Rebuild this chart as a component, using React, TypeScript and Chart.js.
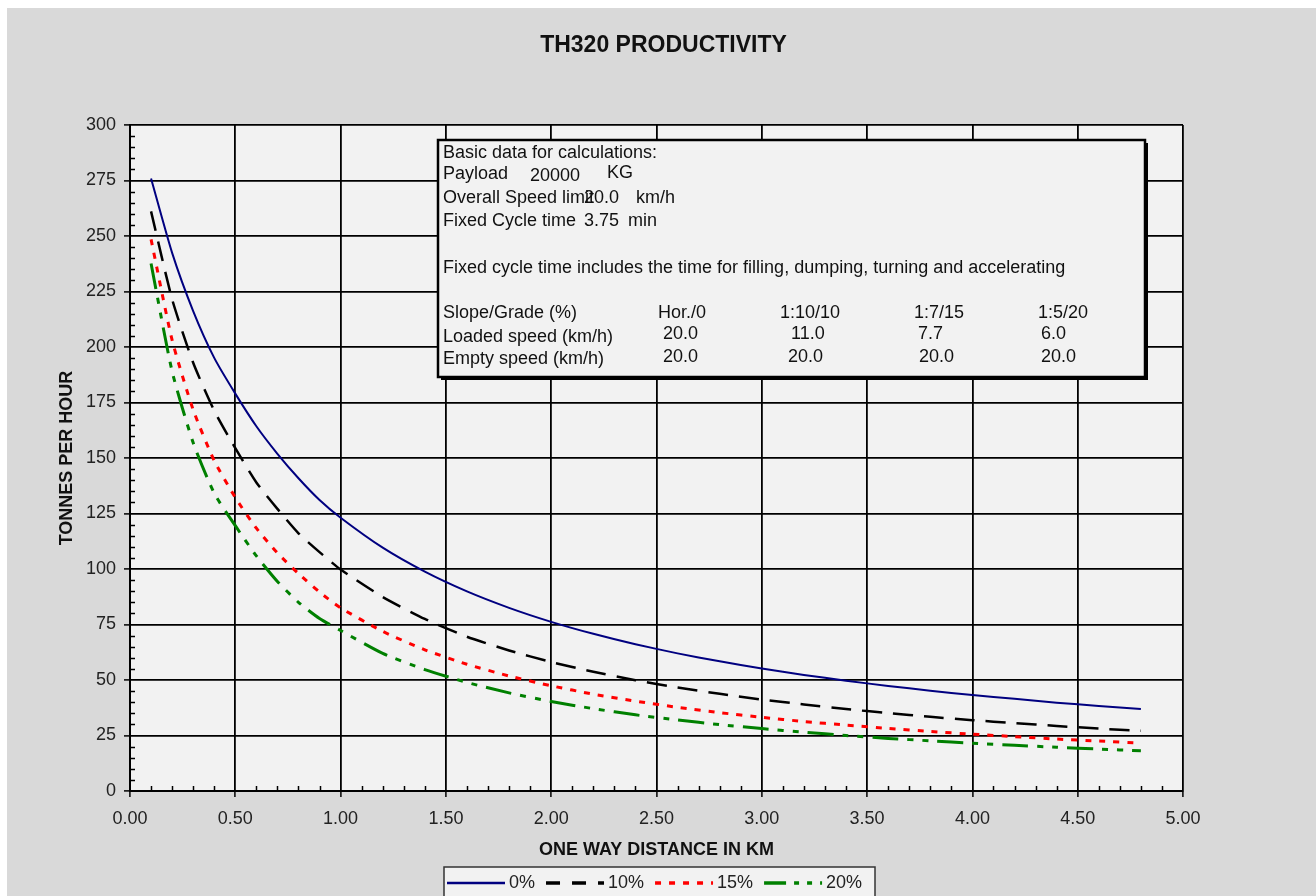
import React, { useEffect, useRef } from 'react';
import { Chart, registerables } from 'chart.js';

Chart.register(...registerables);

const FONT = '"Liberation Sans", Arial, Helvetica, sans-serif';

// One way distance (km)
const distances = [0.1, 0.2, 0.3, 0.4, 0.5, 0.6, 0.7, 0.8, 0.9, 1.0, 1.2, 1.4, 1.6, 1.8, 2.0, 2.2, 2.4, 2.6, 2.8, 3.0, 3.2, 3.4, 3.6, 3.8, 4.0, 4.2, 4.4, 4.6, 4.8];
// Tonnes per hour by slope/grade
const grade0 = [275.9, 242.4, 216.2, 195.1, 179.0, 164.3, 151.9, 140.9, 131.1, 123.1, 109.6, 98.8, 89.9, 82.5, 76.2, 70.8, 66.1, 62.0, 58.4, 55.2, 52.3, 49.7, 47.3, 45.2, 43.2, 41.5, 39.8, 38.3, 36.9];
const grade10 = [261.1, 221.5, 192.9, 171.3, 154.4, 139.0, 127.1, 116.1, 107.6, 99.8, 87.4, 77.5, 69.5, 63.3, 58.1, 53.7, 49.9, 46.6, 43.8, 41.2, 39.0, 36.9, 35.1, 33.4, 31.9, 30.6, 29.3, 28.1, 27.1];
const grade15 = [248.5, 203.1, 171.7, 148.8, 132.2, 118.4, 107.2, 97.9, 89.6, 82.5, 71.9, 63.6, 57.1, 51.8, 47.4, 43.6, 40.5, 37.7, 35.3, 33.2, 31.3, 29.7, 28.2, 26.8, 25.6, 24.5, 23.4, 22.5, 21.6];
const grade20 = [237.6, 189.0, 156.9, 134.1, 119.5, 105.9, 94.4, 85.0, 77.7, 72.3, 62.0, 54.7, 48.9, 44.2, 40.3, 37.1, 34.3, 32.0, 29.9, 28.1, 26.5, 25.0, 23.7, 22.6, 21.5, 20.6, 19.7, 18.9, 18.1];

const seriesLabels = ['0%', '10%', '15%', '20%'];

// Info box content
const basicLines = ['Basic data for calculations:'];
const payloadRow = ['Payload', '20000', 'KG'];
const speedLimitRow = ['Overall Speed limit', '20.0', 'km/h'];
const cycleRow = ['Fixed Cycle time', '3.75', 'min'];
const noteLine = 'Fixed cycle time includes the time for filling, dumping, turning and accelerating';
const slopeGrades = ['Hor./0', '1:10/10', '1:7/15', '1:5/20'];
const loadedSpeeds = ['20.0', '11.0', '7.7', '6.0'];
const emptySpeeds = ['20.0', '20.0', '20.0', '20.0'];

const decorPlugin = {
  id: 'decor',
  beforeDraw(chart: any) {
    const { ctx, chartArea: ca } = chart;
    ctx.save();
    ctx.fillStyle = '#f2f2f2';
    ctx.fillRect(ca.left, ca.top, ca.right - ca.left, ca.bottom - ca.top);
    ctx.restore();
  },
  beforeDatasetsDraw(chart: any) {
    const { ctx, chartArea: ca, scales } = chart;
    const xs = scales.x;
    const ys = scales.y;
    ctx.save();
    ctx.strokeStyle = '#000';
    ctx.lineWidth = 1.5;
    ctx.beginPath();
    for (let i = 1; i < 60; i++) {
      if (i % 5 === 0) continue;
      const y = Math.round(ys.getPixelForValue(i * 5)) + 0.5;
      ctx.moveTo(ca.left, y);
      ctx.lineTo(ca.left + 5, y);
    }
    for (let i = 1; i < 50; i++) {
      if (i % 5 === 0) continue;
      const x = Math.round(xs.getPixelForValue(i / 10)) + 0.5;
      ctx.moveTo(x, ca.bottom);
      ctx.lineTo(x, ca.bottom - 5);
    }
    ctx.stroke();
    ctx.restore();
  },
  afterDraw(chart: any) {
    const { ctx, chartArea: ca } = chart;
    ctx.save();
    // Title
    ctx.fillStyle = '#111';
    ctx.font = `bold 23px ${FONT}`;
    ctx.textAlign = 'center';
    ctx.textBaseline = 'middle';
    ctx.fillText('TH320 PRODUCTIVITY', chart.width / 2 + 2, 38);

    // Info box
    const bx = ca.left + 308;
    const by = ca.top + 15;
    const bw = 707;
    const bh = 237;
    ctx.fillStyle = '#000';
    ctx.fillRect(bx + 3, by + 3, bw, bh);
    ctx.fillStyle = '#f2f2f2';
    ctx.fillRect(bx, by, bw, bh);
    ctx.strokeStyle = '#000';
    ctx.lineWidth = 2.5;
    ctx.strokeRect(bx, by, bw, bh);

    ctx.fillStyle = '#111';
    ctx.font = `18px ${FONT}`;
    ctx.textAlign = 'left';
    ctx.textBaseline = 'middle';
    const tx = bx + 5;
    ctx.fillText(basicLines[0], tx, by + 13);
    ctx.fillText(payloadRow[0], tx, by + 34);
    ctx.fillText(payloadRow[1], bx + 92, by + 36);
    ctx.fillText(payloadRow[2], bx + 169, by + 33);
    ctx.fillText(speedLimitRow[0], tx, by + 58);
    ctx.fillText(speedLimitRow[1], bx + 146, by + 58);
    ctx.fillText(speedLimitRow[2], bx + 198, by + 58);
    ctx.fillText(cycleRow[0], tx, by + 81);
    ctx.fillText(cycleRow[1], bx + 146, by + 81);
    ctx.fillText(cycleRow[2], bx + 190, by + 81);
    ctx.fillText(noteLine, tx, by + 128);
    ctx.fillText('Slope/Grade (%)', tx, by + 173);
    ctx.fillText('Loaded speed (km/h)', tx, by + 197);
    ctx.fillText('Empty speed (km/h)', tx, by + 219);
    const gradeX = [220, 342, 476, 600];
    const loadX = [225, 353, 480, 603];
    const emptyX = [225, 350, 481, 603];
    slopeGrades.forEach((s, i) => ctx.fillText(s, bx + gradeX[i], by + 173));
    loadedSpeeds.forEach((s, i) => ctx.fillText(s, bx + loadX[i], by + 194));
    emptySpeeds.forEach((s, i) => ctx.fillText(s, bx + emptyX[i], by + 217));

    // Legend
    const lx = ca.left + 314;
    const ly = 859;
    ctx.fillStyle = '#f2f2f2';
    ctx.fillRect(lx, ly, 431, 40);
    ctx.strokeStyle = '#333';
    ctx.lineWidth = 1.5;
    ctx.strokeRect(lx, ly, 431, 40);
    let cx = lx + 3;
    const cy = ly + 16;
    ctx.font = `18px ${FONT}`;
    chart.data.datasets.forEach((ds: any) => {
      ctx.save();
      ctx.strokeStyle = ds.borderColor;
      ctx.lineWidth = ds.legendWidth;
      ctx.setLineDash(ds.legendDash || []);
      ctx.beginPath();
      ctx.moveTo(cx, cy);
      ctx.lineTo(cx + 58, cy);
      ctx.stroke();
      ctx.restore();
      cx += 62;
      ctx.fillStyle = '#222';
      ctx.textAlign = 'left';
      ctx.fillText(ds.label, cx, cy);
      cx += ctx.measureText(ds.label).width + 11;
    });
    ctx.restore();
  },
};

export default function App() {
  const canvasRef = useRef<HTMLCanvasElement | null>(null);

  useEffect(() => {
    const canvas = canvasRef.current;
    if (!canvas) return;
    const seriesValues = [grade0, grade10, grade15, grade20];
    const colors = ['#000080', '#000000', '#ff0000', '#008000'];
    const widths = [2, 2.5, 3, 3];
    const dashes = [[], [20, 11], [6, 8], [26, 9, 6, 9, 6, 9]];
    const legendDashes = [[], [14, 12], [6, 8], [22, 8, 5, 8, 5, 8]];
    const chart = new Chart(canvas, {
      type: 'line',
      data: {
        datasets: seriesValues.map((vals, k) => ({
          label: seriesLabels[k],
          data: distances.map((d, i) => ({ x: d, y: vals[i] })),
          borderColor: colors[k],
          borderWidth: widths[k],
          borderDash: dashes[k],
          legendWidth: k === 0 ? 2.5 : 3.5,
          legendDash: legendDashes[k],
          pointRadius: 0,
          tension: 0.2,
          fill: false,
        })) as any,
      },
      options: {
        animation: false,
        responsive: false,
        layout: { padding: { top: 117, right: 133, left: 0, bottom: 0 } },
        plugins: {
          legend: { display: false },
          title: { display: false },
          tooltip: { enabled: false },
        },
        scales: {
          x: {
            type: 'linear',
            min: 0,
            max: 5,
            ticks: {
              stepSize: 0.5,
              autoSkip: false,
              maxRotation: 0,
              padding: 11,
              color: '#222',
              font: { family: FONT, size: 18 },
              callback: (v: any) => Number(v).toFixed(2),
            },
            grid: { color: '#000', lineWidth: 1.8, tickLength: 6, tickColor: '#000', tickWidth: 1.5 },
            border: { color: '#000', width: 2 },
            title: {
              display: true,
              text: 'ONE WAY DISTANCE IN KM',
              color: '#111',
              font: { family: FONT, size: 18, weight: 'bold' },
              padding: { top: 0, bottom: 35 },
            },
            afterFit: (s: any) => {
              s.height = 105;
            },
          },
          y: {
            min: 0,
            max: 300,
            ticks: {
              stepSize: 25,
              padding: 8,
              color: '#222',
              font: { family: FONT, size: 18 },
            },
            grid: { color: '#000', lineWidth: 1.8, tickLength: 6, tickColor: '#000', tickWidth: 1.5 },
            border: { color: '#000', width: 2 },
            title: {
              display: true,
              text: 'TONNES PER HOUR',
              color: '#111',
              font: { family: FONT, size: 18, weight: 'bold' },
              padding: { top: 49, bottom: 0 },
            },
            afterFit: (s: any) => {
              s.width = 123;
            },
          },
        },
      } as any,
      plugins: [decorPlugin],
    });
    return () => chart.destroy();
  }, []);

  return (
    <div
      style={{
        position: 'fixed',
        left: 7,
        top: 8,
        width: 1309,
        height: 888,
        background: '#d9d9d9',
        overflow: 'hidden',
      }}
    >
      <canvas ref={canvasRef} width={1309} height={888} style={{ display: 'block' }} />
    </div>
  );
}
